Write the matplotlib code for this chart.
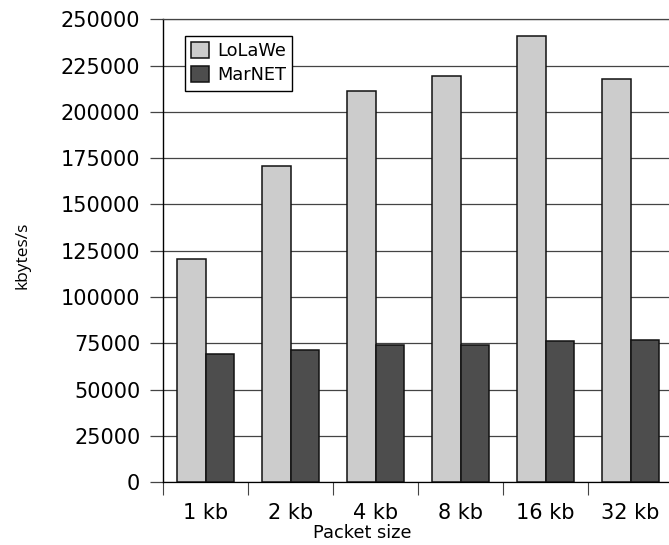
import numpy as np
import matplotlib
matplotlib.use("Agg")
import matplotlib.pyplot as plt

# throughput per packet size, kbytes/s
sizes = ['1 kb', '2 kb', '4 kb', '8 kb', '16 kb', '32 kb']
lolawe = [120400, 170700, 211100, 219300, 240900, 217500]
marnet = [69400, 71200, 73900, 74100, 76400, 76600]

fig = plt.figure(figsize=(6.69, 5.45), dpi=100)
ax = fig.add_axes([0.2437, 0.1152, 0.7623, 0.8495])

x = np.arange(len(sizes)) + 0.5
w = 0.33
ax.bar(x - w / 2, lolawe, w, color='#cccccc', edgecolor='#111111', linewidth=1.1, label='LoLaWe', zorder=3)
ax.bar(x + w / 2, marnet, w, color='#4d4d4d', edgecolor='#111111', linewidth=1.1, label='MarNET', zorder=3)

ax.set_xlim(0, len(sizes))
ax.set_ylim(0, 250000)
ax.set_yticks(np.arange(0, 250001, 25000))
ax.yaxis.grid(True, color='#444444', linewidth=0.9, zorder=0)
ax.set_axisbelow(True)

# ticks between groups, labels at group centres
ax.set_xticks(np.arange(0, len(sizes) + 1))
ax.set_xticklabels([])
ax.set_xticks(x, minor=True)
ax.set_xticklabels(sizes, minor=True)
ax.tick_params(axis='x', which='major', direction='out', length=9, width=0.8, color='#444444')
ax.tick_params(axis='x', which='minor', length=0, pad=15, labelsize=15)
ax.tick_params(axis='y', direction='out', length=9.4, width=0.9, color='#444444', pad=7, labelsize=15)

ax.spines['right'].set_visible(False)
ax.spines['left'].set_linewidth(1.0)
ax.spines['bottom'].set_linewidth(0.9)
ax.spines['top'].set_linewidth(0.9)
ax.spines['top'].set_color('#444444')

leg = ax.legend(loc='upper left', bbox_to_anchor=(0.043, 0.964), borderaxespad=0,
                fontsize=12.8, fancybox=False, framealpha=1, edgecolor='black',
                handlelength=1.0, handleheight=1.0, handletextpad=0.45,
                labelspacing=0.35, borderpad=0.35)
leg.get_frame().set_linewidth(1.0)

fig.text(0.541, 0.0125, 'Packet size', ha='center', va='baseline', fontsize=12.8)
fig.text(0.034, 0.532, 'kbytes/s', rotation=90, ha='center', va='center',
         fontsize=12.5, family=['Open Sans', 'DejaVu Sans'])

fig.savefig('out.png', dpi=100)
